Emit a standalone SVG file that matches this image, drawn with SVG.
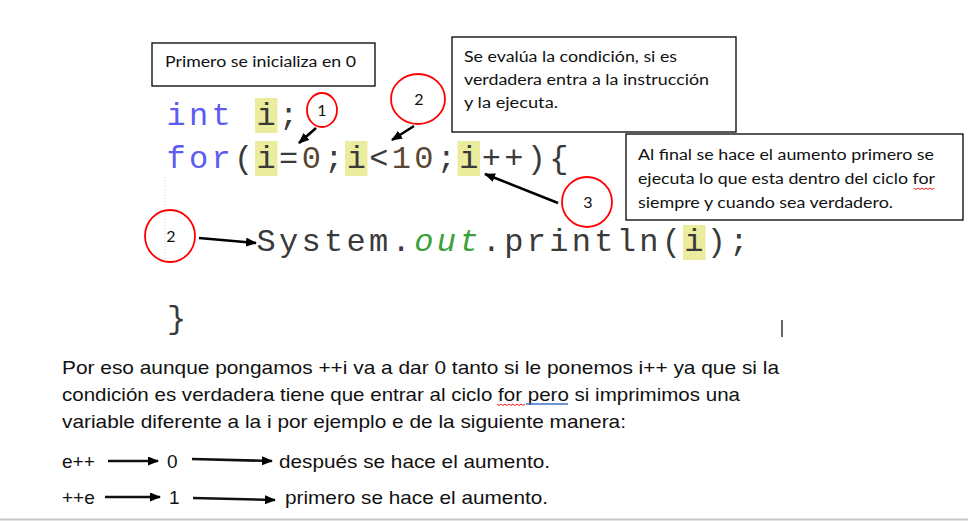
<svg xmlns="http://www.w3.org/2000/svg" width="968" height="521" viewBox="0 0 968 521">
<style>
.box{fill:#fff;stroke:#000;stroke-width:1.3}
.cal{font-family:Lato,"Open Sans","Liberation Sans",sans-serif;font-size:15.5px;fill:#111}
.code{font-family:"Liberation Mono","Courier New",monospace;font-size:32px;letter-spacing:3.3px;fill:#3a3a3a}
.kw{fill:#5c5cf0}
.num{fill:#5a4630}
.fld{fill:#3aa03a;font-style:italic}
.hl{fill:#ecec9f}
.circ{fill:none;stroke:#f00;stroke-width:1.8}
.num16{font-family:Lato,"Liberation Sans",sans-serif;font-size:16px;fill:#111;text-anchor:middle}
.para{font-family:"Liberation Sans",Arial,sans-serif;font-size:19px;fill:#111}
.arr{stroke:#000;stroke-width:2.6;fill:none;marker-end:url(#ah)}
.arr2{stroke:#111;stroke-width:2.6;fill:none;marker-end:url(#ah)}
</style>
<defs>
<marker id="ah" markerWidth="11" markerHeight="9" refX="10" refY="4.5" orient="auto" markerUnits="userSpaceOnUse">
<path d="M0,0 L11,4.5 L0,9 Z" fill="#000"/>
</marker>
</defs>
<rect width="968" height="521" fill="#fff"/>

<g id="code">
<rect class="hl" x="255" y="98" width="22.5" height="35"/>
<rect class="hl" x="255" y="141" width="22.5" height="35"/>
<rect class="hl" x="345" y="141" width="22.5" height="35"/>
<rect class="hl" x="457.5" y="141" width="22.5" height="35"/>
<rect class="hl" x="683" y="225" width="22.5" height="35"/>
<line x1="165" y1="177" x2="165" y2="262" stroke="#d0d0d0" stroke-width="1" stroke-dasharray="1,2"/>
<text class="code" x="166.6" y="125"><tspan class="kw">int</tspan> i;</text>
<text class="code" x="166.6" y="168"><tspan class="kw">for</tspan>(i=<tspan class="num">0</tspan>;i&lt;<tspan class="num">10</tspan>;i++){</text>
<text class="code" x="256.6" y="251">System.<tspan class="fld">out</tspan>.println(i);</text>
<text class="code" x="167" y="328">}</text>
<line x1="782" y1="320" x2="782" y2="337" stroke="#000" stroke-width="1.2"/>
</g>

<g id="box-init">
<rect class="box" x="152" y="43" width="223" height="43"/>
<text class="cal" x="165" y="67" textLength="191" lengthAdjust="spacingAndGlyphs">Primero se inicializa en 0</text>
</g>

<g id="box-cond">
<rect class="box" x="452" y="37" width="284" height="95"/>
<text class="cal" x="464" y="62" textLength="213" lengthAdjust="spacingAndGlyphs">Se evalúa la condición, si es</text>
<text class="cal" x="464" y="85" textLength="245" lengthAdjust="spacingAndGlyphs">verdadera entra a la instrucción</text>
<text class="cal" x="464" y="108" textLength="94" lengthAdjust="spacingAndGlyphs">y la ejecuta.</text>
</g>

<g id="box-inc">
<rect class="box" x="626" y="134" width="337" height="86"/>
<text class="cal" x="638" y="160" textLength="296" lengthAdjust="spacingAndGlyphs">Al final se hace el aumento primero se</text>
<text class="cal" x="638" y="184" textLength="297" lengthAdjust="spacingAndGlyphs">ejecuta lo que esta dentro del ciclo for</text>
<text class="cal" x="638" y="208" textLength="255" lengthAdjust="spacingAndGlyphs">siempre y cuando sea verdadero.</text>
<path d="M914,188 l2,1.5 l2,-1.5 l2,1.5 l2,-1.5 l2,1.5 l2,-1.5 l2,1.5 l2,-1.5 l2,1.5 l2,-1.5" fill="none" stroke="#e00" stroke-width="0.9"/>
</g>

<g id="circle-1">
<ellipse class="circ" cx="322" cy="110" rx="15" ry="17"/>
<text class="num16" x="322" y="116">1</text>
</g>
<g id="circle-2a">
<ellipse class="circ" cx="418" cy="99" rx="27" ry="25"/>
<text class="num16" x="419" y="105">2</text>
</g>
<g id="circle-3">
<ellipse class="circ" cx="587" cy="202" rx="25" ry="25"/>
<text class="num16" x="588" y="208">3</text>
</g>
<g id="circle-2b">
<ellipse class="circ" cx="170" cy="236" rx="25" ry="26"/>
<text class="num16" x="171" y="242">2</text>
</g>

<g id="connectors">
<line class="arr" x1="316" y1="128" x2="299" y2="143"/>
<line class="arr" x1="414" y1="126" x2="392" y2="140"/>
<line class="arr" x1="558" y1="203" x2="485" y2="174"/>
<line class="arr" x1="199" y1="238" x2="256" y2="243"/>
<line class="arr2" x1="108" y1="461" x2="158" y2="461"/>
<line class="arr2" x1="192" y1="459" x2="272" y2="461"/>
<line class="arr2" x1="105" y1="497" x2="160" y2="497"/>
<line class="arr2" x1="193" y1="498" x2="275" y2="500"/>
</g>

<g id="paragraph">
<text class="para" x="62" y="374" textLength="717" lengthAdjust="spacingAndGlyphs">Por eso aunque pongamos ++i va a dar 0 tanto si le ponemos i++ ya que si la</text>
<text class="para" x="62" y="401" textLength="678" lengthAdjust="spacingAndGlyphs">condición es verdadera tiene que entrar al ciclo for  pero si imprimimos una</text>
<text class="para" x="62" y="428" textLength="564" lengthAdjust="spacingAndGlyphs">variable diferente a la i por ejemplo e de la siguiente manera:</text>
<path d="M497,404 l2,1.5 l2,-1.5 l2,1.5 l2,-1.5 l2,1.5 l2,-1.5 l2,1.5 l2,-1.5 l2,1.5 l2,-1.5 l2,1.5 l2,-1.5 l2,1.5 l2,-1.5" fill="none" stroke="#e00" stroke-width="0.9"/>
<line x1="526" y1="404" x2="568" y2="404" stroke="#3e6fc8" stroke-width="1.3"/>
</g>

<g id="row-post">
<text class="para" x="62" y="468">e++</text>
<text class="para" x="167" y="468">0</text>
<text class="para" x="279" y="468" textLength="271" lengthAdjust="spacingAndGlyphs">después se hace el aumento.</text>
</g>
<g id="row-pre">
<text class="para" x="62" y="504">++e</text>
<text class="para" x="169" y="504">1</text>
<text class="para" x="285" y="504" textLength="263" lengthAdjust="spacingAndGlyphs">primero se hace el aumento.</text>
</g>

<line x1="0" y1="519.5" x2="968" y2="519.5" stroke="#c8c8c8" stroke-width="2"/>
</svg>
